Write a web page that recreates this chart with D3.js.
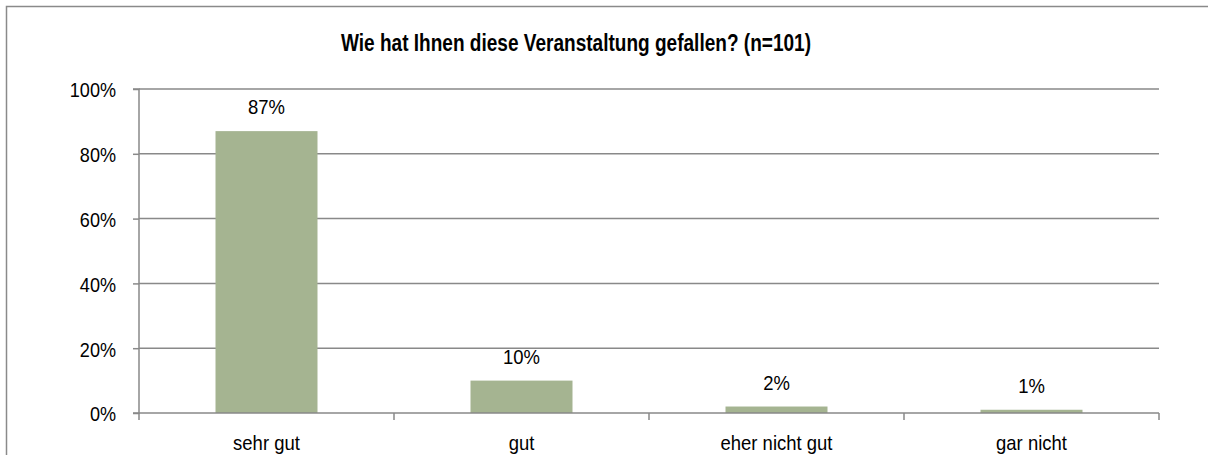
<!DOCTYPE html>
<html>
<head>
<meta charset="utf-8">
<script src="https://cdn.jsdelivr.net/npm/d3@7"></script>
<style>
  body { margin: 0; background: #fff; overflow: hidden; }
  svg { display: block; }
  text { font-family: "Liberation Sans Narrow", "Arial Narrow", "Liberation Sans", sans-serif; fill: #000; }
</style>
</head>
<body>
<div id="chart"></div>
<script>
// chart data
const title = "Wie hat Ihnen diese Veranstaltung gefallen? (n=101)";
const categories = ["sehr gut", "gut", "eher nicht gut", "gar nicht"];
const values = [87, 10, 2, 1];
const yTicks = [0, 20, 40, 60, 80, 100];

const W = 1208, H = 455;
const margin = { top: 89, right: 49, bottom: 42, left: 139 },
    width = W - margin.left - margin.right,
    height = H - margin.top - margin.bottom;

// the original uses a condensed face, squeeze the glyphs to match
function narrow(sel, k) {
    sel.each(function () {
        const w = this.getComputedTextLength();
        d3.select(this).attr("textLength", w * k).attr("lengthAdjust", "spacingAndGlyphs");
    });
}

const svg = d3.select("#chart")
    .append("svg")
    .attr("width", W)
    .attr("height", H);

// outer frame (runs off the right and bottom of the picture)
svg.append("rect")
    .attr("x", 6.5).attr("y", 6.5)
    .attr("width", 1400).attr("height", 600)
    .attr("fill", "none")
    .attr("stroke", "#8a8a8a")
    .attr("stroke-width", 1.5);

svg.append("text")
    .attr("x", 576)
    .attr("y", 51)
    .attr("text-anchor", "middle")
    .style("font-weight", "bold")
    .style("font-size", "23.5px")
    .text(title)
    .call(narrow, 0.81);

const g = svg.append("g")
    .attr("transform", `translate(${margin.left}, ${margin.top})`);

const x = d3.scaleBand()
    .domain(categories)
    .range([0, width])
    .paddingInner(0.6)
    .paddingOuter(0.3);

const y = d3.scaleLinear()
    .domain([0, 100])
    .range([height, 0]);

// horizontal grid lines
g.append("g")
    .selectAll("line")
    .data(yTicks.filter(d => d > 0))
    .join("line")
    .attr("x1", 0).attr("x2", width)
    .attr("y1", d => y(d)).attr("y2", d => y(d))
    .attr("stroke", "#898989")
    .attr("stroke-width", 1.5);

// bars
g.selectAll("rect.bar")
    .data(values)
    .join("rect")
    .attr("class", "bar")
    .attr("x", (d, i) => x(categories[i]))
    .attr("width", x.bandwidth())
    .attr("y", d => y(d))
    .attr("height", d => height - y(d))
    .attr("fill", "#a5b491");

// value labels
g.selectAll("text.val")
    .data(values)
    .join("text")
    .attr("class", "val")
    .attr("x", (d, i) => x(categories[i]) + x.bandwidth() / 2)
    .attr("y", d => y(d) - 17)
    .attr("text-anchor", "middle")
    .style("font-size", "21px")
    .text(d => d + "%")
    .call(narrow, 0.88);

// y axis
const yAxis = g.append("g")
    .call(d3.axisLeft(y).tickValues(yTicks).tickSize(6).tickPadding(17).tickFormat(d => d + "%"));
yAxis.select(".domain").attr("stroke", "#898989").attr("stroke-width", 1.5).attr("d", `M-6,0H0V${height}H-6`);
yAxis.selectAll(".tick line").attr("stroke", "#898989").attr("stroke-width", 1.5);
yAxis.selectAll(".tick text")
    .attr("font-family", null)
    .attr("font-size", null)
    .attr("dy", "0.38em")
    .style("font-size", "21px")
    .call(narrow, 0.86);

// x axis: baseline with ticks at category boundaries
const xAxis = g.append("g").attr("transform", `translate(0, ${height})`);
xAxis.append("line")
    .attr("x1", 0).attr("x2", width)
    .attr("stroke", "#898989").attr("stroke-width", 1.5);
xAxis.selectAll("line.tk")
    .data(d3.range(categories.length + 1))
    .join("line")
    .attr("class", "tk")
    .attr("x1", i => i * x.step()).attr("x2", i => i * x.step())
    .attr("y1", 0).attr("y2", 7)
    .attr("stroke", "#898989").attr("stroke-width", 1.5);
xAxis.selectAll("text")
    .data(categories)
    .join("text")
    .attr("x", d => x(d) + x.bandwidth() / 2)
    .attr("y", 37)
    .attr("text-anchor", "middle")
    .style("font-size", "21px")
    .text(d => d)
    .call(narrow, 0.88);
</script>
</body>
</html>
